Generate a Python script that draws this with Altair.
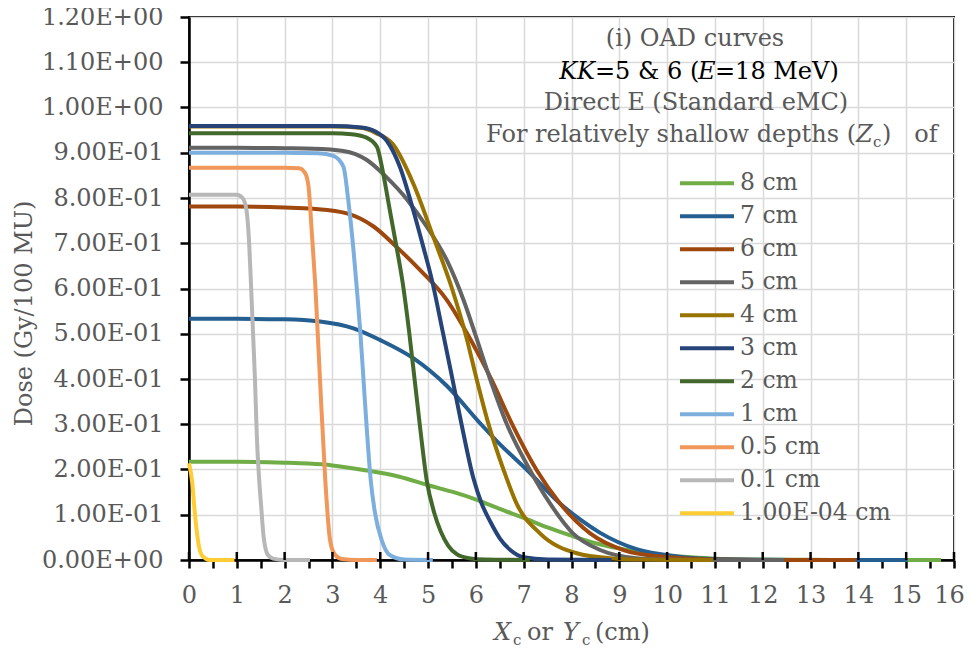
import json
import altair as alt
import pandas as pd

FONT = "DejaVu Serif"
GREY_TXT = "#595959"

SERIES = ["8 cm", "7 cm", "6 cm", "5 cm", "4 cm", "3 cm", "2 cm", "1 cm",
          "0.5 cm", "0.1 cm", "1.00E-04 cm"]
COLORS = ["#70AD47", "#255E91", "#9E480E", "#636363", "#997300", "#264478",
          "#43682B", "#7CAFDD", "#F1975A", "#B7B7B7", "#FFCD33"]

X_8CM = [0, 1, 2, 2.5, 3, 3.65, 4.4, 5.04, 5.5, 6.05, 6.5, 7.0, 7.5, 8.04, 8.5, 9.02, 9.5, 10, 10.5, 11, 12, 13, 14, 15, 15.73]
Y_8CM = [0.217, 0.217, 0.215, 0.213, 0.209, 0.199, 0.184, 0.164, 0.151, 0.132, 0.113, 0.093, 0.072, 0.052, 0.037, 0.025, 0.016, 0.010, 0.006, 0.003, 0.001, 0.0003, 0, 0, 0]

X_7CM = [0, 1, 2, 2.74, 3.44, 4.0, 4.69, 5.39, 6.09, 6.5, 7.06, 7.76, 8.2, 8.6, 9.36, 10.2, 11, 12, 13, 14, 15.03]
Y_7CM = [0.533, 0.533, 0.532, 0.527, 0.512, 0.486, 0.446, 0.385, 0.302, 0.256, 0.200, 0.125, 0.088, 0.060, 0.024, 0.008, 0.002, 0.0005, 0, 0, 0]

X_6CM = [0, 1, 2, 2.6, 3.3, 3.86, 4.34, 4.83, 5.39, 5.9, 6.33, 6.75, 7.27, 7.76, 8.39, 9.09, 9.92, 10.5, 11, 12, 13, 13.95]
Y_6CM = [0.781, 0.781, 0.779, 0.776, 0.766, 0.737, 0.692, 0.641, 0.575, 0.485, 0.398, 0.302, 0.199, 0.125, 0.059, 0.022, 0.007, 0.003, 0.001, 0, 0, 0]

X_5CM = [0, 1, 2, 2.6, 3.23, 3.72, 4.14, 4.55, 4.97, 5.39, 5.74, 5.98, 6.33, 6.64, 7.13, 7.55, 8.03, 8.6, 9.36, 10, 11, 12.45]
Y_5CM = [0.911, 0.911, 0.910, 0.909, 0.904, 0.884, 0.845, 0.798, 0.737, 0.663, 0.575, 0.501, 0.390, 0.302, 0.199, 0.125, 0.059, 0.022, 0.004, 0.001, 0, 0]

X_4CM = [0, 1, 2, 3, 3.6, 3.9, 4.27, 4.69, 5.11, 5.5, 5.80, 6.02, 6.26, 6.58, 6.85, 7.34, 8.11, 8.81, 9.5, 10.96]
Y_4CM = [0.958, 0.958, 0.958, 0.958, 0.955, 0.944, 0.918, 0.832, 0.714, 0.600, 0.493, 0.398, 0.302, 0.199, 0.125, 0.059, 0.015, 0.004, 0.001, 0]

X_3CM = [0, 1, 2, 3, 3.6, 3.9, 4.14, 4.41, 4.69, 4.90, 5.08, 5.3, 5.5, 5.7, 5.95, 6.12, 6.3, 6.5, 6.72, 7.0, 7.5, 8.84]
Y_3CM = [0.959, 0.959, 0.959, 0.959, 0.956, 0.947, 0.926, 0.869, 0.773, 0.692, 0.619, 0.508, 0.405, 0.300, 0.180, 0.125, 0.085, 0.048, 0.022, 0.006, 0.001, 0]

X_2CM = [0, 1, 2, 3, 3.4, 3.7, 3.93, 4.06, 4.2, 4.34, 4.47, 4.6, 4.72, 4.84, 4.97, 5.13, 5.27, 5.42, 5.6, 5.85, 6.2, 7.13]
Y_2CM = [0.943, 0.943, 0.943, 0.943, 0.941, 0.934, 0.913, 0.855, 0.773, 0.692, 0.612, 0.508, 0.398, 0.287, 0.177, 0.104, 0.062, 0.032, 0.013, 0.004, 0.001, 0]

X_1CM = [0, 1, 2, 2.7, 3.02, 3.23, 3.33, 3.44, 3.51, 3.58, 3.65, 3.72, 3.80, 3.89, 4.03, 4.2, 4.5, 5.1]
Y_1CM = [0.900, 0.900, 0.900, 0.899, 0.893, 0.869, 0.796, 0.685, 0.600, 0.508, 0.398, 0.287, 0.177, 0.104, 0.044, 0.011, 0.001, 0]

X_05CM = [0, 1, 2, 2.3, 2.43, 2.5, 2.57, 2.64, 2.74, 2.85, 2.95, 3.05, 3.2, 3.5, 3.93]
Y_05CM = [0.867, 0.867, 0.867, 0.866, 0.855, 0.825, 0.722, 0.610, 0.398, 0.177, 0.044, 0.012, 0.002, 0, 0]

X_01CM = [0, 0.5, 1.0, 1.12, 1.2, 1.25, 1.29, 1.34, 1.38, 1.42, 1.46, 1.51, 1.56, 1.65, 1.76, 2.0, 2.53]
Y_01CM = [0.807, 0.807, 0.807, 0.800, 0.775, 0.715, 0.625, 0.500, 0.398, 0.270, 0.190, 0.118, 0.052, 0.011, 0.003, 0, 0]

X_0001 = [0, 0.07, 0.11, 0.16, 0.21, 0.265, 0.35, 0.45, 0.95]
Y_0001 = [0.214, 0.169, 0.118, 0.066, 0.029, 0.011, 0.003, 0, 0]

Y_TICK_VALUES = [0.0, 0.1, 0.2, 0.3, 0.4, 0.5, 0.6, 0.7, 0.8, 0.9, 1.0, 1.1, 1.2]
Y_TICK_LABELS = ["0.00E+00", "1.00E-01", "2.00E-01", "3.00E-01", "4.00E-01",
                 "5.00E-01", "6.00E-01", "7.00E-01", "8.00E-01", "9.00E-01",
                 "1.00E+00", "1.10E+00", "1.20E+00"]
X_TICK_VALUES = [0, 0.5, 1, 1.5, 2, 2.5, 3, 3.5, 4, 4.5, 5, 5.5, 6, 6.5, 7, 7.5, 8,
                 8.5, 9, 9.5, 10, 10.5, 11, 11.5, 12, 12.5, 13, 13.5, 14, 14.5,
                 15, 15.5, 16]
X_MAJOR_TICKS = [0, 1, 2, 3, 4, 5, 6, 7, 8, 9, 10, 11, 12, 13, 14, 15, 16]

XS = [X_8CM, X_7CM, X_6CM, X_5CM, X_4CM, X_3CM, X_2CM, X_1CM, X_05CM, X_01CM, X_0001]
YS = [Y_8CM, Y_7CM, Y_6CM, Y_5CM, Y_4CM, Y_3CM, Y_2CM, Y_1CM, Y_05CM, Y_01CM, Y_0001]

rows = []
for name, xs, ys in zip(SERIES, XS, YS):
    for xv, yv in zip(xs, ys):
        rows.append({"series": name, "x": xv, "dose": yv})
df = pd.DataFrame(rows)

W, H = 765, 543
FS = 24

x_axis = alt.Axis(
    values=X_TICK_VALUES, title=None,
    labelExpr="datum.value % 1 === 0 ? format(datum.value, 'd') : ''",
    labelFont=FONT, labelFontSize=FS, labelColor=GREY_TXT, labelPadding=15,
    labelFlush=False, labelOverlap=False,
    labelOffset={"condition": {"test": "datum.value === 16", "value": -5}, "value": 0},
    tickSize=8, tickWidth=2.5, tickColor="black",
    domainColor="black", domainWidth=2.5,
    grid=True, gridColor="#D9D9D9", gridWidth=1.5,
    gridOpacity={"condition": {"test": "datum.value % 1 === 0", "value": 1}, "value": 0},
)
x_enc = alt.X("x:Q", scale=alt.Scale(domain=[0, 16], nice=False, zero=False), axis=x_axis)

y_axis = alt.Axis(
    values=Y_TICK_VALUES,
    labelExpr=json.dumps(Y_TICK_LABELS) + "[round(datum.value * 10)]",
    labelFont=FONT, labelFontSize=FS, labelColor=GREY_TXT, labelPadding=17,
    labelFlush=False, labelOverlap=False,
    tickSize=9, tickWidth=2.5, tickColor="black",
    domainColor="black", domainWidth=2.5,
    grid=True, gridColor="#D9D9D9", gridWidth=1.5,
    title="Dose (Gy/100 MU)", titleFont=FONT, titleFontSize=FS, titleFontWeight="normal",
    titleColor=GREY_TXT, titleAngle=270, titleX=-165, titleY=296,
    titleAlign="center", titleBaseline="middle",
)

lines = alt.Chart(df).mark_line(strokeWidth=4, interpolate="monotone").encode(
    x=x_enc,
    y=alt.Y("dose:Q", scale=alt.Scale(domain=[0, 1.2], nice=False), axis=y_axis),
    color=alt.Color(
        "series:N", sort=SERIES,
        scale=alt.Scale(domain=SERIES, range=COLORS),
        legend=alt.Legend(
            title=None, orient="none", legendX=489, legendY=150,
            symbolType="stroke", symbolSize=2916, symbolStrokeWidth=4,
            clipHeight=32.7, rowPadding=0, padding=0, labelOffset=4,
            labelFont=FONT, labelFontSize=23.5, labelColor=GREY_TXT,
            labelLimit=300,
        ),
    ),
    detail="series:N",
)

tick_df = pd.DataFrame({"x": X_MAJOR_TICKS})
inner_ticks = alt.Chart(tick_df).mark_rule(color="black", strokeWidth=2.5).encode(
    x=x_enc, y=alt.value(H - 8), y2=alt.value(H)
)

one = pd.DataFrame({"k": [0]})


def txt(text, x, y, size=FS, color=GREY_TXT, style="normal", align="left"):
    return alt.Chart(one).mark_text(
        font=FONT, fontSize=size, color=color, fontStyle=style,
        align=align, baseline="alphabetic",
    ).encode(x=alt.value(x), y=alt.value(y), text=alt.value(text))


NB = "\u00a0"
texts = [
    txt("(i) OAD curves", 506, 29, align="center"),
    txt("KK", 406, 62, color="black", style="italic", align="right"),
    txt("=5 & 6 (", 406, 62, color="black"),
    txt("E", 509, 62, color="black", style="italic"),
    txt("=18 MeV)", 526, 62, color="black"),
    txt("Direct E (Standard eMC)", 507, 93, align="center"),
    txt("For relatively shallow depths (", 667, 125, align="right"),
    txt("Z", 667, 125, style="italic"),
    txt("c", 684, 130, size=15),
    txt(")" + NB + NB + NB + "of", 693, 125),
    # x-axis title
    txt("X", 305, 623, style="italic"),
    txt("c", 324, 628, size=15),
    txt("or", 338, 623),
    txt("Y", 374, 623, style="italic"),
    txt("c", 393, 628, size=15),
    txt("(cm)", 406, 623),
]

chart = alt.layer(lines, inner_ticks, *texts).properties(
    width=W, height=H,
    autosize=alt.AutoSizeParams(type="none"),
    padding={"left": 181, "top": 9, "right": 10, "bottom": 89},
).configure(font=FONT).configure_view(stroke="black", strokeWidth=2)

chart.save("out.html", embed_options={"renderer": "svg", "actions": False})
